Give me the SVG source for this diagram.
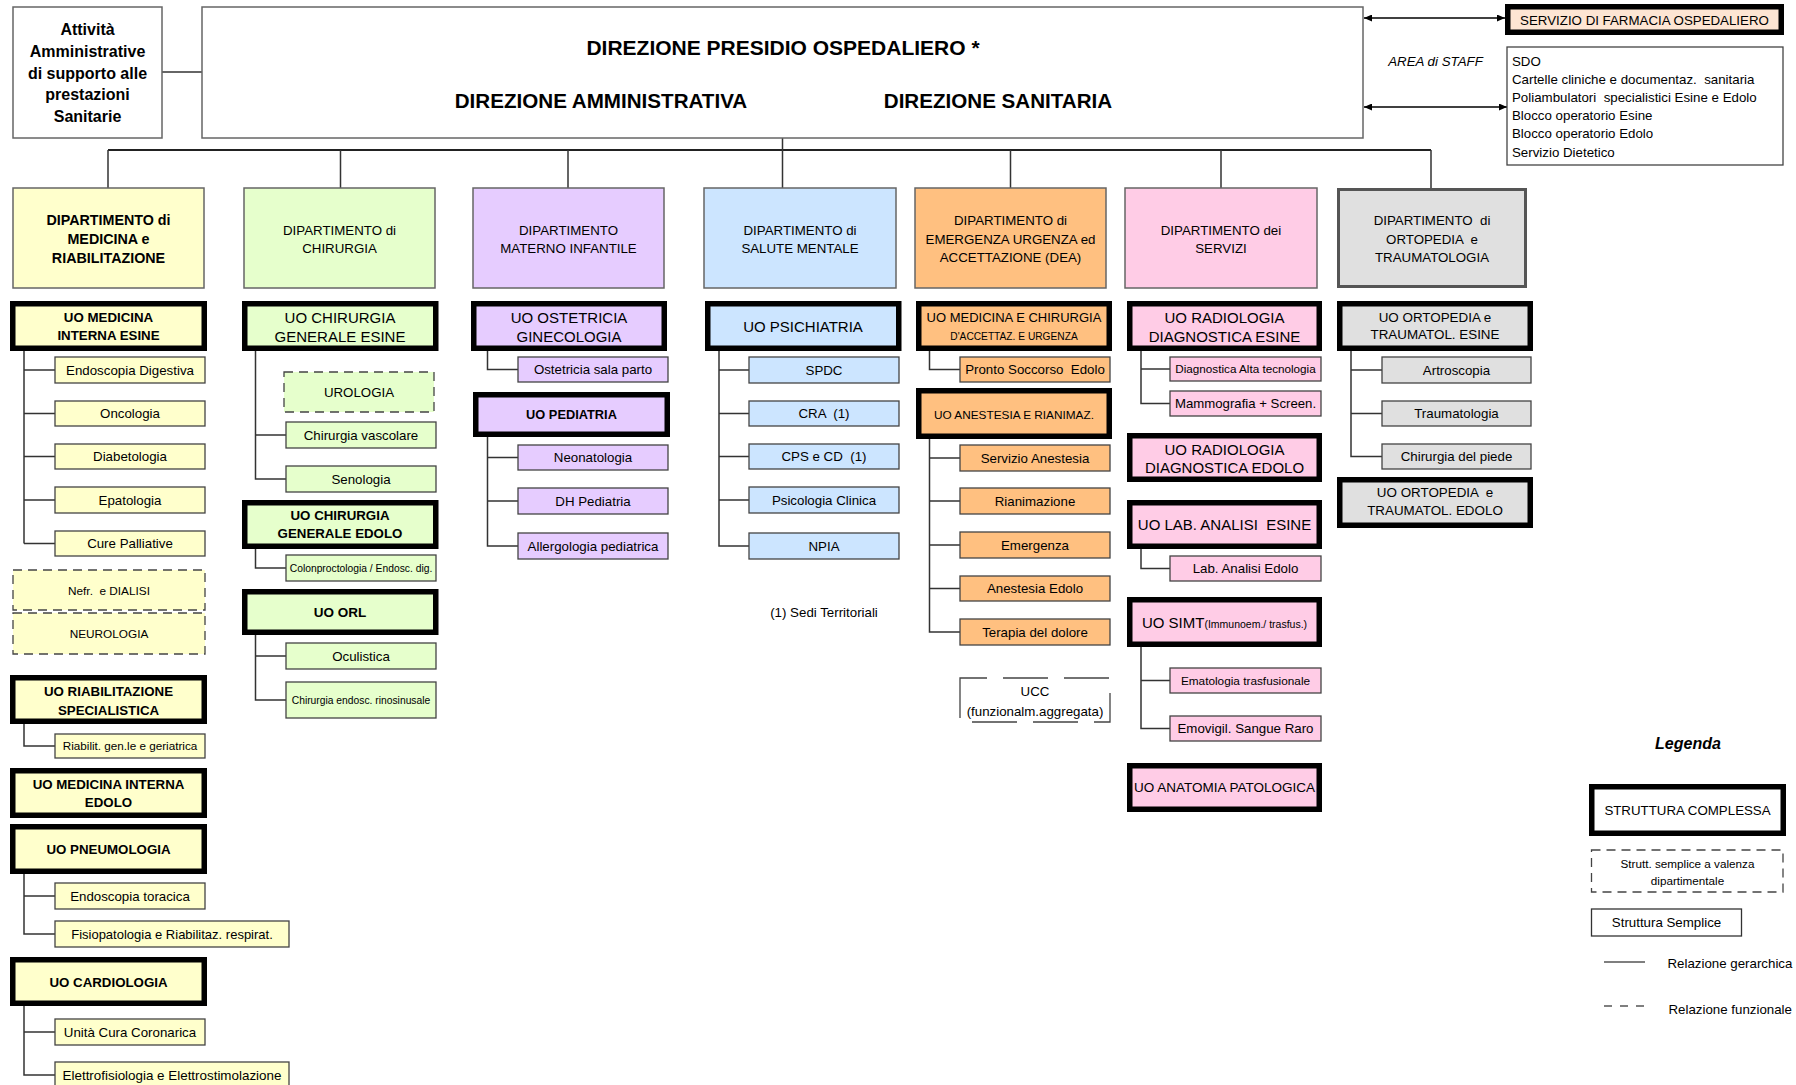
<svg xmlns="http://www.w3.org/2000/svg" width="1796" height="1085" viewBox="0 0 1796 1085">
<style>
text{font-family:"Liberation Sans",Arial,sans-serif;fill:#000;white-space:pre;text-anchor:middle}
text.l{text-anchor:start}
.s{font-size:13.3px}
.b{font-weight:bold}
.bx{fill:#fff;stroke:#666;stroke-width:1.5}
.dep{stroke:#666;stroke-width:1.5}
.sub{stroke:#444;stroke-width:1.3}
.cx{stroke:#000;stroke-width:5.5}
.ds{stroke:#444;stroke-width:1.3;stroke-dasharray:9 6}
.ln{stroke:#333;stroke-width:1.5;fill:none}
.y{fill:#FFFFCC}.g{fill:#E6FFCC}.p{fill:#E6CCFF}.bl{fill:#CCE5FF}.o{fill:#FFC080}.pk{fill:#FFCCE6}.gr{fill:#E0E0E0}.w{fill:#fff}
</style>
<defs>
<marker id="ar" viewBox="0 0 10 10" refX="10" refY="5" markerWidth="8" markerHeight="7" markerUnits="userSpaceOnUse" preserveAspectRatio="none" orient="auto-start-reverse"><path d="M0,0 L10,5 L0,10 z" fill="#000"/></marker>
</defs>

<g id="connectors">
<path class="ln" d="M162 72 H202"/>
<path d="M108 150 H1431" stroke="#222" stroke-width="2" fill="none"/>
<path class="ln" d="M782.5 138 V188 M108 150 V188 M340.5 150 V188 M568 150 V188 M1010.5 150 V188 M1221 150 V188 M1431 150 V188"/>
<path d="M1364 18 H1505" stroke="#000" stroke-width="1.3" marker-start="url(#ar)" marker-end="url(#ar)"/>
<path d="M1364 107 H1507" stroke="#000" stroke-width="1.3" marker-start="url(#ar)" marker-end="url(#ar)"/>
<path class="ln" d="M24 351 V543.5 M24 370 H55 M24 413.5 H55 M24 456.5 H55 M24 500 H55 M24 543.5 H55"/>
<path class="ln" d="M24 724 V746 H55"/>
<path class="ln" d="M24 874 V934 H55 M24 896 H55"/>
<path class="ln" d="M24 1006 V1075 H55 M24 1032 H55"/>
<path class="ln" d="M255.5 351 V479 H286 M255.5 435 H286"/>
<path class="ln" d="M255.5 549 V568 H286"/>
<path class="ln" d="M255.5 635 V700 H286 M255.5 656 H286"/>
<path class="ln" d="M487.5 351 V369.5 H518"/>
<path class="ln" d="M487.5 437 V546 H518 M487.5 457.5 H518 M487.5 501 H518"/>
<path class="ln" d="M719 351 V546 H749 M719 370 H749 M719 413.5 H749 M719 456.5 H749 M719 500 H749"/>
<path class="ln" d="M929.5 351 V369.5 H960"/>
<path class="ln" d="M929.5 439 V632 H960 M929.5 458 H960 M929.5 501 H960 M929.5 545 H960 M929.5 588.5 H960"/>
<path class="ln" d="M1141 351 V403.5 H1170 M1141 369 H1170"/>
<path class="ln" d="M1141 549 V568.5 H1170"/>
<path class="ln" d="M1141 647 V728.5 H1170 M1141 680.5 H1170"/>
<path class="ln" d="M1351 351 V456.5 H1382 M1351 370 H1382 M1351 413.5 H1382"/>
</g>

<g id="attivita"><rect class="bx" x="13" y="7" width="149" height="131"/>
<text class="b" x="87.5" y="35" font-size="16">Attività</text>
<text class="b" x="87.5" y="57" font-size="16">Amministrative</text>
<text class="b" x="87.5" y="78.5" font-size="16">di supporto alle</text>
<text class="b" x="87.5" y="100" font-size="16">prestazioni</text>
<text class="b" x="87.5" y="121.5" font-size="16">Sanitarie</text></g>

<g id="direzione"><rect class="bx" x="202" y="7" width="1161" height="131"/>
<text class="b" x="783" y="55" font-size="21">DIREZIONE PRESIDIO OSPEDALIERO *</text>
<text class="b" x="601" y="108" font-size="20.6">DIREZIONE AMMINISTRATIVA</text>
<text class="b" x="998" y="108" font-size="20.6">DIREZIONE SANITARIA</text></g>

<g id="farmacia"><rect class="cx" fill="#FDE5D3" x="1507.75" y="6.75" width="273.5" height="25.5"/>
<text class="s" x="1644.5" y="25">SERVIZIO DI FARMACIA OSPEDALIERO</text></g>
<g id="area-staff"><text class="s" x="1435.5" y="65.5" font-style="italic">AREA di STAFF</text></g>
<g id="staff"><rect class="w" stroke="#444" stroke-width="1.3" x="1507" y="47" width="276" height="118"/>
<text class="s l" x="1512" y="65.5">SDO</text>
<text class="s l" x="1512" y="84">Cartelle cliniche e documentaz.  sanitaria</text>
<text class="s l" x="1512" y="102">Poliambulatori  specialistici Esine e Edolo</text>
<text class="s l" x="1512" y="120">Blocco operatorio Esine</text>
<text class="s l" x="1512" y="138">Blocco operatorio Edolo</text>
<text class="s l" x="1512" y="157">Servizio Dietetico</text></g>

<!-- Medicina -->
<g id="dip-medicina"><rect class="dep y" x="13" y="188" width="191" height="100"/>
<text class="b" x="108.5" y="225" font-size="14.3">DIPARTIMENTO di</text>
<text class="b" x="108.5" y="244" font-size="14.3">MEDICINA e</text>
<text class="b" x="108.5" y="263" font-size="14.3">RIABILITAZIONE</text></g>
<g id="uo-med-int-esine"><rect class="cx y" x="12.75" y="303.75" width="191.5" height="44.5"/>
<text class="s b" x="108.5" y="322">UO MEDICINA</text><text class="s b" x="108.5" y="340">INTERNA ESINE</text></g>
<g id="endoscopia-digestiva"><rect class="sub y" x="55" y="357" width="150" height="26"/><text class="s" x="130" y="374.8">Endoscopia Digestiva</text></g>
<g id="oncologia"><rect class="sub y" x="55" y="401" width="150" height="25"/><text class="s" x="130" y="418.3">Oncologia</text></g>
<g id="diabetologia"><rect class="sub y" x="55" y="444" width="150" height="25"/><text class="s" x="130" y="461.3">Diabetologia</text></g>
<g id="epatologia"><rect class="sub y" x="55" y="487" width="150" height="26"/><text class="s" x="130" y="504.8">Epatologia</text></g>
<g id="cure-palliative"><rect class="sub y" x="55" y="531" width="150" height="25"/><text class="s" x="130" y="548.3">Cure Palliative</text></g>
<g id="nefr-dialisi"><rect class="ds y" x="13" y="570" width="192" height="40"/><text x="109" y="595.2" font-size="11.8">Nefr.  e DIALISI</text></g>
<g id="neurologia"><rect class="ds y" x="13" y="613" width="192" height="41"/><text x="109" y="638.2" font-size="11.8">NEUROLOGIA</text></g>
<g id="uo-riabilitazione"><rect class="cx y" x="12.75" y="677.75" width="191.5" height="43.5"/>
<text class="s b" x="108.5" y="696">UO RIABILITAZIONE</text><text class="s b" x="108.5" y="715">SPECIALISTICA</text></g>
<g id="riabilit-gen"><rect class="sub y" x="55" y="734" width="150" height="24"/><text x="130" y="750.2" font-size="11.7">Riabilit. gen.le e geriatrica</text></g>
<g id="uo-med-int-edolo"><rect class="cx y" x="12.75" y="770.75" width="191.5" height="44.5"/>
<text class="s b" x="108.5" y="789">UO MEDICINA INTERNA</text><text class="s b" x="108.5" y="807">EDOLO</text></g>
<g id="uo-pneumologia"><rect class="cx y" x="12.75" y="826.75" width="191.5" height="44.5"/><text class="s b" x="108.5" y="854">UO PNEUMOLOGIA</text></g>
<g id="endoscopia-toracica"><rect class="sub y" x="55" y="883" width="150" height="26"/><text class="s" x="130" y="900.8">Endoscopia toracica</text></g>
<g id="fisiopatologia"><rect class="sub y" x="55" y="921" width="234" height="26"/><text x="172" y="938.7" font-size="13">Fisiopatologia e Riabilitaz. respirat.</text></g>
<g id="uo-cardiologia"><rect class="cx y" x="12.75" y="959.75" width="191.5" height="43.5"/><text class="s b" x="108.5" y="987">UO CARDIOLOGIA</text></g>
<g id="utic"><rect class="sub y" x="55" y="1019" width="150" height="26"/><text class="s" x="130" y="1036.8">Unità Cura Coronarica</text></g>
<g id="elettrofisiologia"><rect class="sub y" x="55" y="1062" width="234" height="27"/><text x="172" y="1079.8" font-size="13.4">Elettrofisiologia e Elettrostimolazione</text></g>

<!-- Chirurgia -->
<g id="dip-chirurgia"><rect class="dep g" x="244" y="188" width="191" height="100"/>
<text class="s" x="339.5" y="235">DIPARTIMENTO di</text><text class="s" x="339.5" y="252.5">CHIRURGIA</text></g>
<g id="uo-chir-esine"><rect class="cx g" x="244.75" y="303.75" width="191" height="44.5"/>
<text x="340" y="322.5" font-size="15">UO CHIRURGIA</text><text x="340" y="341.5" font-size="15">GENERALE ESINE</text></g>
<g id="urologia"><rect class="ds g" x="284" y="372" width="150" height="40"/><text class="s" x="359" y="396.8">UROLOGIA</text></g>
<g id="chir-vascolare"><rect class="sub g" x="286" y="422" width="150" height="26"/><text class="s" x="361" y="439.8">Chirurgia vascolare</text></g>
<g id="senologia"><rect class="sub g" x="286" y="466" width="150" height="26"/><text class="s" x="361" y="483.8">Senologia</text></g>
<g id="uo-chir-edolo"><rect class="cx g" x="244.75" y="502.75" width="191" height="43.5"/>
<text class="s b" x="340" y="520">UO CHIRURGIA</text><text class="s b" x="340" y="538">GENERALE EDOLO</text></g>
<g id="colonproctologia"><rect class="sub g" x="286" y="555" width="150" height="26"/><text x="361" y="571.7" font-size="10.3">Colonproctologia / Endosc. dig.</text></g>
<g id="uo-orl"><rect class="cx g" x="244.75" y="591.75" width="191" height="40.5"/><text class="b" x="340" y="617" font-size="13.5">UO ORL</text></g>
<g id="oculistica"><rect class="sub g" x="286" y="643" width="150" height="26"/><text class="s" x="361" y="660.8">Oculistica</text></g>
<g id="rinosinusale"><rect class="sub g" x="286" y="682" width="150" height="36"/><text x="361" y="703.7" font-size="10.3">Chirurgia endosc. rinosinusale</text></g>

<!-- Materno Infantile -->
<g id="dip-materno"><rect class="dep p" x="473" y="188" width="191" height="100"/>
<text class="s" x="568.5" y="235">DIPARTIMENTO</text><text class="s" x="568.5" y="252.5">MATERNO INFANTILE</text></g>
<g id="uo-ostetricia"><rect class="cx p" x="473.75" y="303.75" width="190.5" height="44.5"/>
<text x="569" y="322.5" font-size="15">UO OSTETRICIA</text><text x="569" y="341.5" font-size="15">GINECOLOGIA</text></g>
<g id="sala-parto"><rect class="sub p" x="518" y="357" width="150" height="25"/><text class="s" x="593" y="374.3">Ostetricia sala parto</text></g>
<g id="uo-pediatria"><rect class="cx p" x="475.75" y="394.75" width="191.5" height="39.5"/><text class="b" x="571.5" y="419" font-size="12.8">UO PEDIATRIA</text></g>
<g id="neonatologia"><rect class="sub p" x="518" y="445" width="150" height="25"/><text class="s" x="593" y="462.3">Neonatologia</text></g>
<g id="dh-pediatria"><rect class="sub p" x="518" y="488" width="150" height="26"/><text class="s" x="593" y="505.8">DH Pediatria</text></g>
<g id="allergologia"><rect class="sub p" x="518" y="533" width="150" height="26"/><text class="s" x="593" y="550.8">Allergologia pediatrica</text></g>

<!-- Salute mentale -->
<g id="dip-salute-mentale"><rect class="dep bl" x="704" y="188" width="192" height="100"/>
<text class="s" x="800" y="235">DIPARTIMENTO di</text><text class="s" x="800" y="252.5">SALUTE MENTALE</text></g>
<g id="uo-psichiatria"><rect class="cx bl" x="707.75" y="303.75" width="191" height="44.5"/><text x="803" y="331.5" font-size="15">UO PSICHIATRIA</text></g>
<g id="spdc"><rect class="sub bl" x="749" y="357" width="150" height="26"/><text class="s" x="824" y="374.8">SPDC</text></g>
<g id="cra"><rect class="sub bl" x="749" y="401" width="150" height="25"/><text class="s" x="824" y="418.3">CRA  (1)</text></g>
<g id="cps"><rect class="sub bl" x="749" y="444" width="150" height="25"/><text class="s" x="824" y="461.3">CPS e CD  (1)</text></g>
<g id="psicologia"><rect class="sub bl" x="749" y="487" width="150" height="26"/><text class="s" x="824" y="504.8">Psicologia Clinica</text></g>
<g id="npia"><rect class="sub bl" x="749" y="533" width="150" height="26"/><text class="s" x="824" y="550.8">NPIA</text></g>
<g id="nota-sedi"><text class="s" x="824" y="617">(1) Sedi Territoriali</text></g>

<!-- DEA -->
<g id="dip-dea"><rect class="dep o" x="915" y="188" width="191" height="100"/>
<text class="s" x="1010.5" y="225">DIPARTIMENTO di</text><text class="s" x="1010.5" y="243.5">EMERGENZA URGENZA ed</text><text class="s" x="1010.5" y="262">ACCETTAZIONE (DEA)</text></g>
<g id="uo-med-chir-urgenza"><rect class="cx o" x="918.75" y="303.75" width="190.5" height="44.5"/>
<text x="1014" y="321.5" font-size="13">UO MEDICINA E CHIRURGIA</text><text x="1014" y="339.5" font-size="10.2">D'ACCETTAZ. E URGENZA</text></g>
<g id="pronto-soccorso"><rect class="sub o" x="960" y="357" width="150" height="25"/><text class="s" x="1035" y="374.3">Pronto Soccorso  Edolo</text></g>
<g id="uo-anestesia"><rect class="cx o" x="918.75" y="390.75" width="190.5" height="45.5"/><text x="1014" y="419" font-size="11.8">UO ANESTESIA E RIANIMAZ.</text></g>
<g id="servizio-anestesia"><rect class="sub o" x="960" y="445" width="150" height="26"/><text class="s" x="1035" y="462.8">Servizio Anestesia</text></g>
<g id="rianimazione"><rect class="sub o" x="960" y="488" width="150" height="26"/><text class="s" x="1035" y="505.8">Rianimazione</text></g>
<g id="emergenza"><rect class="sub o" x="960" y="532" width="150" height="26"/><text class="s" x="1035" y="549.8">Emergenza</text></g>
<g id="anestesia-edolo"><rect class="sub o" x="960" y="576" width="150" height="25"/><text class="s" x="1035" y="593.3">Anestesia Edolo</text></g>
<g id="terapia-dolore"><rect class="sub o" x="960" y="619" width="150" height="26"/><text class="s" x="1035" y="636.8">Terapia del dolore</text></g>
<g id="ucc"><rect x="960" y="678" width="150" height="44" fill="#fff" stroke="#444" stroke-width="1.3" stroke-dasharray="45 16" stroke-dashoffset="18"/>
<text class="s" x="1035" y="695.8">UCC</text><text class="s" x="1035" y="715.8">(funzionalm.aggregata)</text></g>

<!-- Servizi -->
<g id="dip-servizi"><rect class="dep pk" x="1125" y="188" width="192" height="100"/>
<text class="s" x="1221" y="235">DIPARTIMENTO dei</text><text class="s" x="1221" y="252.5">SERVIZI</text></g>
<g id="uo-rad-esine"><rect class="cx pk" x="1129.75" y="303.75" width="189.5" height="44.5"/>
<text x="1224.5" y="322.5" font-size="15">UO RADIOLOGIA</text><text x="1224.5" y="341.5" font-size="15">DIAGNOSTICA ESINE</text></g>
<g id="diagn-alta-tecn"><rect class="sub pk" x="1170" y="357" width="151" height="24"/><text x="1245.5" y="373.2" font-size="11.7">Diagnostica Alta tecnologia</text></g>
<g id="mammografia"><rect class="sub pk" x="1170" y="391" width="151" height="25"/><text x="1245.5" y="408.3" font-size="13.2">Mammografia + Screen.</text></g>
<g id="uo-rad-edolo"><rect class="cx pk" x="1129.75" y="435.75" width="189.5" height="43.5"/>
<text x="1224.5" y="454.5" font-size="15">UO RADIOLOGIA</text><text x="1224.5" y="473" font-size="15">DIAGNOSTICA EDOLO</text></g>
<g id="uo-lab-esine"><rect class="cx pk" x="1129.75" y="502.75" width="189.5" height="43.5"/><text x="1224.5" y="530" font-size="15">UO LAB. ANALISI  ESINE</text></g>
<g id="lab-edolo"><rect class="sub pk" x="1170" y="556" width="151" height="25"/><text class="s" x="1245.5" y="573.3">Lab. Analisi Edolo</text></g>
<g id="uo-simt"><rect class="cx pk" x="1129.75" y="599.75" width="189.5" height="44.5"/><text x="1224.5" y="627.5" font-size="15">UO SIMT<tspan font-size="10.5">(Immunoem./ trasfus.)</tspan></text></g>
<g id="ematologia"><rect class="sub pk" x="1170" y="668" width="151" height="25"/><text x="1245.5" y="684.7" font-size="11.8">Ematologia trasfusionale</text></g>
<g id="emovigil"><rect class="sub pk" x="1170" y="716" width="151" height="25"/><text class="s" x="1245.5" y="733.3">Emovigil. Sangue Raro</text></g>
<g id="uo-anatomia"><rect class="cx pk" x="1129.75" y="765.75" width="189.5" height="43.5"/><text x="1224.5" y="792" font-size="13.5">UO ANATOMIA PATOLOGICA</text></g>

<!-- Ortopedia -->
<g id="dip-ortopedia"><rect class="gr" stroke="#555" stroke-width="3" x="1338.5" y="189.5" width="187" height="97"/>
<text class="s" x="1432" y="225">DIPARTIMENTO  di</text><text class="s" x="1432" y="243.5">ORTOPEDIA  e</text><text class="s" x="1432" y="262">TRAUMATOLOGIA</text></g>
<g id="uo-ort-esine"><rect class="cx gr" x="1339.75" y="303.75" width="190.5" height="44.5"/>
<text x="1435" y="321.5" font-size="13.4">UO ORTOPEDIA e</text><text x="1435" y="338.5" font-size="13.4">TRAUMATOL. ESINE</text></g>
<g id="artroscopia"><rect class="sub gr" x="1382" y="357" width="149" height="26"/><text class="s" x="1456.5" y="374.8">Artroscopia</text></g>
<g id="traumatologia"><rect class="sub gr" x="1382" y="401" width="149" height="25"/><text class="s" x="1456.5" y="418.3">Traumatologia</text></g>
<g id="chir-piede"><rect class="sub gr" x="1382" y="444" width="149" height="25"/><text class="s" x="1456.5" y="461.3">Chirurgia del piede</text></g>
<g id="uo-ort-edolo"><rect class="cx gr" x="1339.75" y="479.75" width="190.5" height="45.5"/>
<text x="1435" y="497" font-size="13.4">UO ORTOPEDIA  e</text><text x="1435" y="515" font-size="13.4">TRAUMATOL. EDOLO</text></g>

<!-- Legenda -->
<g id="legenda">
<text x="1688" y="749" font-size="16" font-weight="bold" font-style="italic">Legenda</text>
<rect class="cx w" x="1591.75" y="786.75" width="191.5" height="46.5"/>
<text class="s" x="1687.5" y="815">STRUTTURA COMPLESSA</text>
<rect class="ds w" x="1591.5" y="850" width="191.5" height="42"/>
<text x="1687.5" y="868" font-size="11.7">Strutt. semplice a valenza</text>
<text x="1687.5" y="885" font-size="11.7">dipartimentale</text>
<rect class="w" stroke="#333" stroke-width="1.3" x="1591.5" y="909" width="150" height="27"/>
<text class="s" x="1666.5" y="927">Struttura Semplice</text>
<path d="M1604 962 H1645" stroke="#000" stroke-width="1.2"/>
<text class="s l" x="1667.5" y="968">Relazione gerarchica</text>
<path d="M1604 1006 H1645" stroke="#000" stroke-width="1.2" stroke-dasharray="8 8"/>
<text class="s l" x="1668.5" y="1013.5">Relazione funzionale</text>
</g>
</svg>
